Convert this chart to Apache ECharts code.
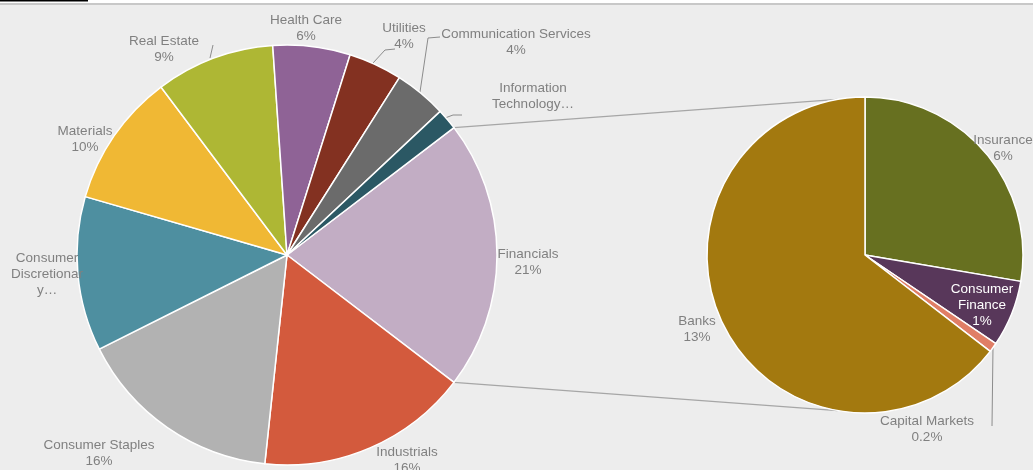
<!DOCTYPE html>
<html><head><meta charset="utf-8">
<script src="https://cdn.jsdelivr.net/npm/echarts@6/dist/echarts.min.js"></script>
<style>html,body{margin:0;padding:0;background:#ededed;overflow:hidden;}#c{width:1033px;height:470px;}</style>
</head><body><div id="c"></div>
<script>
// ---- data ----
const sectorNames = ['Industrials','Consumer Staples','Consumer Discretionary','Materials','Real Estate','Health Care','Utilities','Communication Services','Information Technology'];
const sectorValues = [16.2, 15.8, 11.8, 10.2, 9.1, 5.9, 4.1, 4.0, 1.6];
const groupName = 'Financials';
const subNames = ['Insurance','Consumer Finance','Capital Markets','Banks'];
const subValues = [5.7, 1.4, 0.2, 13.3];

// ---- styles ----
const sectorColors = ['#D35A3D','#B2B2B2','#4E8FA0','#F0B834','#AEB734','#8F6396','#833121','#6B6B6B','#2B5864'];
const groupColor = '#C2ADC4';
const subColors = ['#677020','#58375A','#E07E66','#A3790F'];
const mainCenter = [287, 255], mainR = 210;
const subCenter = [865, 255], subR = 158;
const labelText = {
  'Consumer Discretionary': 'Consumer\nDiscretionar\ny…',
  'Information Technology': 'Information\nTechnology…',
  'Consumer Finance': 'Consumer\nFinance\n{pct}'
};
const labelOffset = {
  'Financials': [241, 7], 'Industrials': [120, 205], 'Consumer Staples': [-188, 198],
  'Consumer Discretionary': [-240, 19], 'Materials': [-202, -116], 'Real Estate': [-123, -205.5],
  'Health Care': [19, -226.5], 'Utilities': [117, -218.5], 'Communication Services': [229, -213],
  'Information Technology': [246, -159],
  'Insurance': [138, -107], 'Consumer Finance': [117, 50], 'Capital Markets': [62, 174.5], 'Banks': [-168, 74]
};
const leader = {
  'Real Estate': [[-77,-197],[-74,-210]],
  'Utilities': [[86,-192],[98,-205],[108,-206]],
  'Communication Services': [[133,-163],[141,-217],[153,-218]],
  'Information Technology': [[158,-137],[166,-140],[175,-140]],
  'Capital Markets': [[128,92],[127,171]]
};

// ---- derived ----
const groupValue = subValues.reduce((a,b)=>a+b,0);
const mainNames = [groupName].concat(sectorNames);
const mainValues = [groupValue].concat(sectorValues);
const mainColors = [groupColor].concat(sectorColors);
const total = mainValues.reduce((a,b)=>a+b,0);
function pct(v){ const p = v/total*100; return p < 1 ? p.toFixed(1)+'%' : Math.round(p)+'%'; }
function lbl(name, v){ return labelText[name] ? labelText[name].replace('{pct}', pct(v)) : (name + '\n' + pct(v)); }

const mainData = mainNames.map((n,i)=>({
  name: n, value: mainValues[i], itemStyle: {color: mainColors[i]},
  labelLine: {show: !!leader[n]}
}));
const subData = subNames.map((n,i)=>({
  name: n, value: subValues[i], itemStyle: {color: subColors[i]},
  labelLine: {show: !!leader[n]},
  label: n === 'Consumer Finance' ? {color: '#ffffff'} : undefined
}));

const startMain = groupValue/total*180;
const lineAng = 100*Math.PI/180;
const topA = -startMain*Math.PI/180, botA = startMain*Math.PI/180;
function pt(c,r,a){ return [c[0]+r*Math.cos(a), c[1]+r*Math.sin(a)]; }
const p1 = pt(mainCenter, mainR, topA), p2 = pt(subCenter, subR, -lineAng);
const p3 = pt(mainCenter, mainR, botA), p4 = pt(subCenter, subR, lineAng);

function layoutFn(params){
  const isMain = params.seriesIndex === 0;
  const names = isMain ? mainNames : subNames;
  const c = isMain ? mainCenter : subCenter;
  const n = names[params.dataIndex];
  const o = labelOffset[n];
  const res = {x: c[0]+o[0], y: c[1]+o[1], align: 'center', verticalAlign: 'middle'};
  if (leader[n]) res.labelLinePoints = leader[n].map(p=>[c[0]+p[0], c[1]+p[1]]);
  return res;
}

const labelBase = {
  show: true, position: 'outside', color: '#808080', fontSize: 13.5, lineHeight: 16,
  fontFamily: 'Liberation Sans, Arial, sans-serif', overflow: 'none', align: 'center',
  formatter: p => lbl(p.name, p.value)
};

const chart = echarts.init(document.getElementById('c'), null, {renderer: 'canvas'});
chart.setOption({
  animation: false,
  backgroundColor: '#ededed',
  graphic: [
    {type: 'rect', shape: {x: 0, y: 0, width: 1033, height: 3}, style: {fill: '#ffffff'}, silent: true},
    {type: 'rect', shape: {x: 0, y: 0, width: 88, height: 1.5}, style: {fill: '#000000'}, silent: true},
    {type: 'rect', shape: {x: 0, y: 3, width: 1033, height: 2}, style: {fill: '#c8c8c8'}, silent: true},
    {type: 'line', shape: {x1: p1[0], y1: p1[1], x2: p2[0], y2: p2[1]}, style: {stroke: '#a6a6a6', lineWidth: 1.2}, silent: true, z: 0},
    {type: 'line', shape: {x1: p3[0], y1: p3[1], x2: p4[0], y2: p4[1]}, style: {stroke: '#a6a6a6', lineWidth: 1.2}, silent: true, z: 0}
  ],
  series: [
    {
      type: 'pie', center: mainCenter, radius: [0, mainR], startAngle: startMain, clockwise: true,
      avoidLabelOverlap: false, minAngle: 0, silent: true,
      itemStyle: {borderColor: '#ffffff', borderWidth: 1.5},
      label: labelBase,
      labelLine: {show: false, length: 6, length2: 6, lineStyle: {color: '#8c8c8c', width: 1}},
      labelLayout: layoutFn,
      emphasis: {disabled: true},
      data: mainData
    },
    {
      type: 'pie', center: subCenter, radius: [0, subR], startAngle: 90, clockwise: true,
      avoidLabelOverlap: false, minAngle: 0, silent: true,
      itemStyle: {borderColor: '#ffffff', borderWidth: 1.5},
      label: labelBase,
      labelLine: {show: false, length: 6, length2: 6, lineStyle: {color: '#8c8c8c', width: 1}},
      labelLayout: layoutFn,
      emphasis: {disabled: true},
      data: subData
    }
  ]
});
</script>
</body></html>
